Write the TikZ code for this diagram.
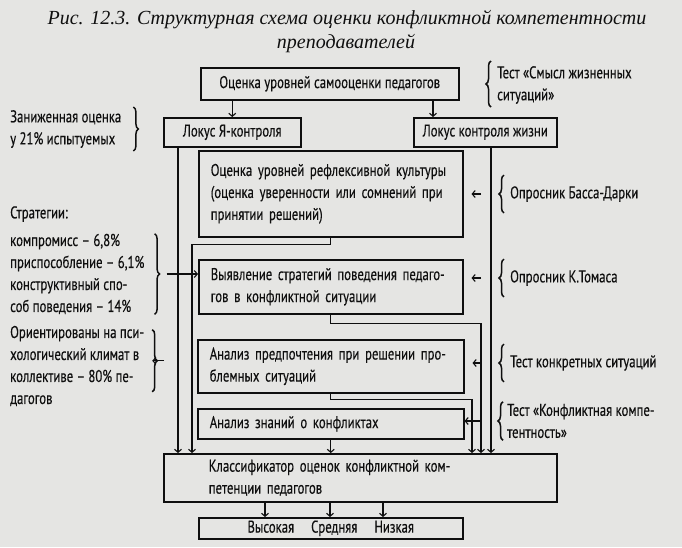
\documentclass[tikz,border=0pt]{standalone}
\usepackage{fontspec}
\setmainfont{PT Sans}[FakeStretch=0.75, FakeBold=0.3]
\newfontfamily\capfont{Liberation Serif}
\usetikzlibrary{arrows.meta,decorations.pathreplacing,calc}
\definecolor{paper}{RGB}{229,229,227}
\definecolor{ink}{RGB}{15,15,15}
\tikzset{
  box/.style={draw=ink, line width=1.5pt, inner sep=0pt, anchor=north west},
  tbox/.style={box, inner xsep=12pt, text width=#1, align=left},
  lbl/.style={inner sep=0pt, align=left, anchor=west},
  brc/.style={draw=ink, line width=1.5pt, decorate, decoration={brace, amplitude=5pt}},
  arr/.style={draw=ink, line width=1.1pt, -{Straight Barb[length=3pt,width=7pt]}},
}
\begin{document}
\begin{tikzpicture}[x=1pt, y=-1pt, text=ink, font=\fontsize{17}{22}\selectfont]
    % Paper
    \useasboundingbox (0,0) rectangle (682,547);
    \fill[paper] (0,0) rectangle (682,547);

    % Caption
    \node[font=\capfont\itshape\fontsize{20}{24}\selectfont] (cap1) at (347,20)
        {Рис. 12.3. Структурная схема оценки конфликтной компетентности};
    \node[font=\capfont\itshape\fontsize{20}{24}\selectfont] (cap2) at (346,44) {преподавателей};

    % Boxes
    \node[box, minimum width=258, minimum height=32] (samo) at (200,67) {Оценка уровней самооценки педагогов};
    \node[box, minimum width=137, minimum height=29] (lokYa) at (163,117) {Локус Я-контроля};
    \node[box, minimum width=143, minimum height=29] (lokZh) at (413,117) {Локус контроля жизни};
    \node[tbox=240, minimum height=86] (refl) at (198,150)
        {Оценка уровней рефлексивной культуры\\(оценка уверенности или сомнений при\\принятии решений)};
    \node[tbox=240, minimum height=54] (strat) at (198,259)
        {Выявление стратегий поведения педаго-\\гов в конфликтной ситуации};
    \node[tbox=242, minimum height=53] (pref) at (197,339)
        {Анализ предпочтения при решении про-\\блемных ситуаций};
    \node[tbox=242, minimum height=30] (znan) at (197,408) {Анализ знаний о конфликтах};
    \node[box, inner xsep=45pt, text width=303, align=left, minimum height=48] (klass) at (163,453)
        {Классификатор оценок конфликтной ком-\\петенции педагогов};
    \node[box, minimum width=264, minimum height=21] (level) at (198,517) {Высокая\quad Средняя\quad Низкая};

    % Left notes
    \node[lbl] (low) at (10,129) {Заниженная оценка\\у 21\% испытуемых};
    \node[lbl] (stratT) at (10,214) {Стратегии:};
    \node[lbl] (choice) at (10,274) {компромисс – 6,8\%\\приспособление – 6,1\%\\конструктивный спо-\\соб поведения – 14\%};
    \node[lbl] (clim) at (10,366) {Ориентированы на пси-\\хологический климат в\\коллективе – 80\% пе-\\дагогов};

    % Right notes
    \node[lbl] (smysl) at (497,85) {Тест «Смысл жизненных\\ситуаций»};
    \node[lbl] (bass) at (510,194) {Опросник Басса-Дарки};
    \node[lbl] (tomas) at (510,278) {Опросник К.Томаса};
    \node[lbl] (konkr) at (510,363) {Тест конкретных ситуаций};
    \node[lbl] (kompet) at (507,421) {Тест «Конфликтная компе-\\тентность»};

    % Braces
    \draw[brc] ([xshift=12pt,yshift=3pt]low.north east) -- ([xshift=12pt,yshift=-3pt]low.south east);
    \draw[brc] ([xshift=10pt]choice.north east) -- ([xshift=10pt]choice.south east);
    \coordinate (cb1) at ($(clim.north east)!0.05!(clim.south east)+(8pt,0)$);
    \coordinate (cb2) at ($(clim.north east)!0.82!(clim.south east)+(8pt,0)$);
    \draw[brc] (cb1) -- (cb2);
    \draw[brc] ([xshift=-6pt,yshift=-3pt]smysl.south west) -- ([xshift=-6pt,yshift=5pt]smysl.north west);
    \foreach \n in {bass,tomas,konkr}
        \draw[brc] ([xshift=-6pt,yshift=-11pt]\n.south west) -- ([xshift=-6pt,yshift=11pt]\n.north west);
    \draw[brc] ([xshift=-4pt,yshift=-2pt]kompet.south west) -- ([xshift=-4pt,yshift=2pt]kompet.north west);

    % Bus lines
    \coordinate (xL1) at (178,0);
    \coordinate (xL2) at (192,0);
    \coordinate (xR1) at (472,0);
    \coordinate (xR2) at (481,0);
    \coordinate (xR3) at (491,0);
    \coordinate (xA2) at (433,0);

    % Arrows from self-assessment
    \draw[arr] (samo.south -| lokYa.north) -- (lokYa.north);
    \draw[arr] (samo.south -| xA2) -- (lokZh.north -| xA2);

    % Lines down to the classifier
    \draw[arr] (lokYa.south -| xL1) -- (klass.north -| xL1);
    \draw[arr] (refl.south) -- ++(0,7) -| (klass.north -| xL2);
    \draw[arr] (strat.south) -- ++(0,9) -| (klass.north -| xR2);
    \draw[arr] (pref.south) -- ++(0,6) -| (klass.north -| xR1);
    \draw[arr] (lokZh.south -| xR3) -- (klass.north -| xR3);
    \draw[arr] (znan.south) -- (znan.south |- klass.north);

    % Levels
    \foreach \x [count=\i] in {265,330,383} {
        \coordinate (w\i) at (\x,0);
        \draw[arr] (klass.south -| w\i) -- (level.north -| w\i);
    }

    % Tests into boxes
    \draw[arr, shorten >=8pt] (bass.west -| xR2) -- (bass.west -| refl.east);
    \draw[arr, shorten >=8pt] (tomas.west -| xR2) -- (tomas.west -| strat.east);
    \draw[arr, shorten >=8pt] (konkr.west -| xR2) -- (konkr.west -| pref.east);
    \draw[arr] (kompet.west -| xR2) -- (kompet.west -| znan.east);

    % Notes into boxes
    \draw[arr] ([xshift=22pt]choice.east) -- (choice.east -| strat.west);
    \draw[arr] ($(cb1)!0.5!(cb2)+(12pt,0)$) -- ($(cb1)!0.5!(cb2)$ -| pref.west);
\end{tikzpicture}
\end{document}
